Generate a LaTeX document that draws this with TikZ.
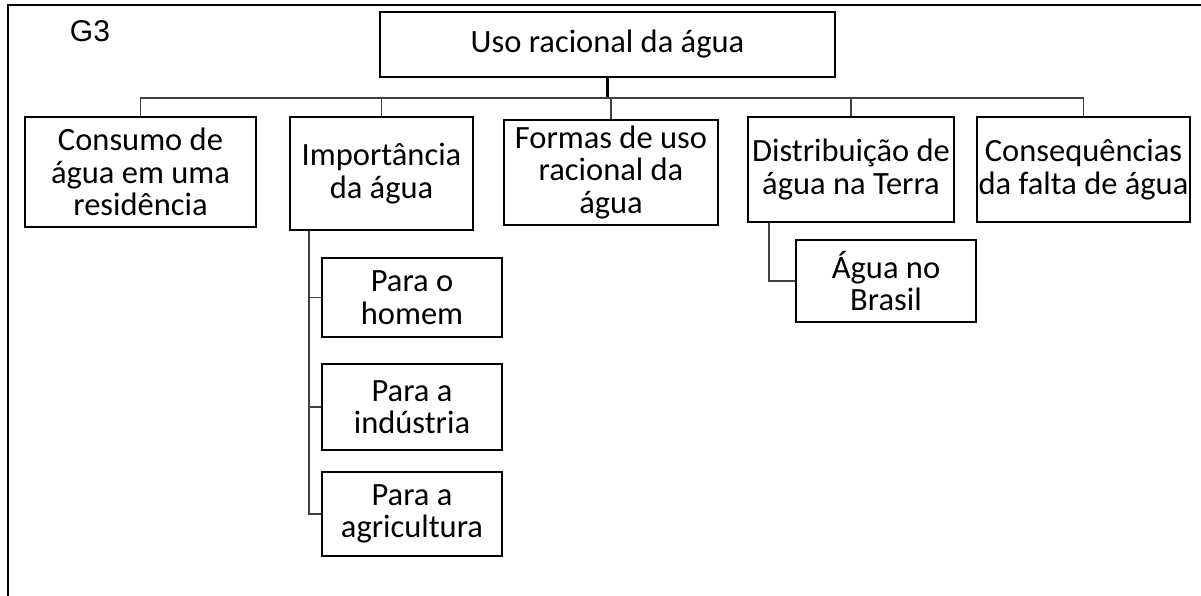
\documentclass[tikz,border=0pt]{standalone}
\usepackage{fontspec}
\setmainfont{Carlito}
\newfontfamily\arialf{Liberation Sans}
\begin{document}
\begin{tikzpicture}[x=1pt,y=-1pt,
  box/.style={draw=black, line width=2.6pt, align=center, inner sep=0pt,
    font=\fontsize{32.5}{32.5}\selectfont},
  conn/.style={draw=black!75, line width=1.4pt},
  thickconn/.style={draw=black, line width=2.6pt}]
\useasboundingbox (0,0) rectangle (1201,596);
% frame
\draw[line width=2.6pt] (8,596) -- (8,5);
\draw[line width=1.6pt] (7,5) -- (1201,5);
\node[font=\arialf\fontsize{30}{30}\selectfont] (g3) at (90,31) {G3};
% boxes
\node[box, minimum width=455pt, minimum height=65pt] (top) at (607.5,44.5) {Uso racional da água};
\node[box, minimum width=231pt, minimum height=110pt] (cons) at (140.5,172) {Consumo de\\água em uma\\residência};
\node[box, minimum width=183pt, minimum height=113pt] (imp) at (381.5,173.5) {Importância\\da água};
\node[box, minimum width=214pt, minimum height=105pt] (form) at (611,172.5) {Formas de uso\\racional da\\água};
\node[box, minimum width=206pt, minimum height=105pt] (dist) at (851,169.5) {Distribuição de\\água na Terra};
\node[box, minimum width=213pt, minimum height=105pt] (conq) at (1083.5,169.5) {Consequências\\da falta de água};
\node[box, minimum width=180pt, minimum height=82pt] (agua) at (886,281) {Água no\\Brasil};
\node[box, minimum width=180pt, minimum height=79pt] (hom) at (412,297.5) {Para o\\homem};
\node[box, minimum width=180pt, minimum height=86pt] (ind) at (412,407) {Para a\\indústria};
\node[box, minimum width=180pt, minimum height=84pt] (agr) at (412,514) {Para a\\agricultura};
% connectors
\coordinate (bus) at (0,98);
\coordinate (impv) at (309,0);
\coordinate (distv) at (769,0);
\draw[thickconn] (top.south) -- (top.south |- bus);
\draw[conn] (cons.north) |- (conq.north |- bus) -- (conq.north);
\draw[conn] (imp.north) -- (imp.north |- bus);
\draw[conn] (form.north) -- (form.north |- bus);
\draw[conn] (dist.north) -- (dist.north |- bus);
\draw[conn] (imp.south -| impv) |- (agr.west);
\draw[conn] (impv |- hom.west) -- (hom.west);
\draw[conn] (impv |- ind.west) -- (ind.west);
\draw[conn] (dist.south -| distv) |- (agua.west);
\end{tikzpicture}
\end{document}
